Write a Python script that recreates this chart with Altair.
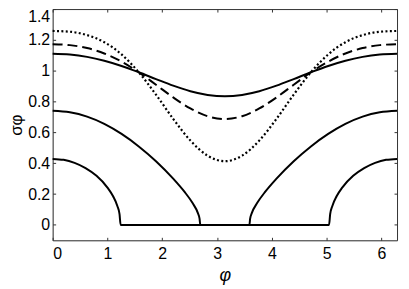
import altair as alt
import pandas as pd

# phi grid for the three upper curves (0 .. 2*pi)
PHI_UP = [0, 0.314, 0.628, 0.942, 1.257, 1.571, 1.885, 2.199, 2.513, 2.827, 3.142,
          3.456, 3.770, 4.084, 4.398, 4.712, 5.027, 5.341, 5.655, 5.969, 6.283]
SOLID_TOP = [1.110, 1.105, 1.090, 1.065, 1.031, 0.990, 0.946, 0.903, 0.867, 0.843, 0.834,
             0.843, 0.867, 0.903, 0.946, 0.990, 1.031, 1.065, 1.090, 1.105, 1.110]
DASHED = [1.172, 1.166, 1.147, 1.112, 1.059, 0.990, 0.909, 0.827, 0.755, 0.705, 0.687,
          0.705, 0.755, 0.827, 0.909, 0.990, 1.059, 1.112, 1.147, 1.166, 1.172]
DOTTED = [1.258, 1.253, 1.231, 1.185, 1.106, 0.990, 0.845, 0.688, 0.547, 0.449, 0.413,
          0.449, 0.547, 0.688, 0.845, 0.990, 1.106, 1.185, 1.231, 1.253, 1.258]

PHI_MID = [0, 0.314, 0.628, 0.942, 1.257, 1.571, 1.885, 2.199, 2.40, 2.55, 2.65, 2.68, 2.694,
           3.589, 3.603, 3.633, 3.733, 3.883, 4.084, 4.398, 4.712, 5.027, 5.341, 5.655, 5.969, 6.283]
SOLID_MID = [0.740, 0.730, 0.702, 0.655, 0.590, 0.509, 0.413, 0.300, 0.217, 0.143, 0.076, 0.040, 0.0,
             0.0, 0.040, 0.076, 0.143, 0.217, 0.300, 0.413, 0.509, 0.590, 0.655, 0.702, 0.730, 0.740]

PHI_LOW = [0, 0.2, 0.4, 0.6, 0.8, 1.0, 1.1, 1.18, 1.22, 1.24,
           5.043, 5.063, 5.103, 5.183, 5.283, 5.483, 5.683, 5.883, 6.083, 6.283]
SOLID_LOW = [0.428, 0.422, 0.402, 0.368, 0.318, 0.242, 0.187, 0.123, 0.070, 0.0,
             0.0, 0.070, 0.123, 0.187, 0.242, 0.318, 0.368, 0.402, 0.422, 0.428]

X_TICKS = [0, 1, 2, 3, 4, 5, 6]
Y_TICKS = [0, 0.2, 0.4, 0.6, 0.8, 1.0, 1.2, 1.4]

rows = []
def add(name, style, xs, ys):
    for i, (x, y) in enumerate(zip(xs, ys)):
        rows.append({"series": name, "style": style, "phi": x, "value": y, "order": i})

add("top", "solid", PHI_UP, SOLID_TOP)
add("dashed", "dashed", PHI_UP, DASHED)
add("dotted", "dotted", PHI_UP, DOTTED)
add("mid", "solid", PHI_MID, SOLID_MID)
add("low", "solid", PHI_LOW, SOLID_LOW)
df = pd.DataFrame(rows)

FONT = "Liberation Sans"
AX = "#333333"
W, H = 347, 233
xscale = alt.Scale(domain=[0, 6.283], nice=False, zero=False)
yscale = alt.Scale(domain=[-0.1, 1.4], nice=False, zero=False)

common = dict(grid=False, domainColor=AX, domainWidth=1, tickColor=AX, tickWidth=1,
              tickSize={"expr": "-3"}, labelFont=FONT, labelFontSize=16, labelColor="black",
              titleFont=FONT, titleFontSize=18, titleColor="black", titleFontWeight="normal")

x_bottom = alt.Axis(values=X_TICKS, format="~g", orient="bottom", title="φ",
                    titleFontStyle="italic", labelPadding=8,
                    titleX=W / 2, titleY=36, titleBaseline="middle", **common)
y_left = alt.Axis(values=Y_TICKS, format="~g", orient="left", title="σφ",
                  labelFlush=True, labelPadding=6,
                  titleX=-36, titleY=H / 2, titleBaseline="middle", titleAngle=270,
                  **{**common, "titleFontSize": 17})
x_top = alt.Axis(values=X_TICKS, orient="top", labels=False, title=None, **common)
y_right = alt.Axis(values=Y_TICKS, orient="right", labels=False, title=None, **common)

base = alt.Chart(df)

def line(style, dash, width):
    m = base.transform_filter(alt.datum.style == style).mark_line(
        color="black", strokeWidth=width, interpolate="monotone",
        **({"strokeDash": dash} if dash else {}))
    return m

solid = line("solid", None, 2).encode(
    x=alt.X("phi:Q", scale=xscale, axis=x_bottom),
    y=alt.Y("value:Q", scale=yscale, axis=y_left),
    detail="series:N", order="order:Q")
dashed = line("dashed", [10, 5], 2).encode(
    x=alt.X("phi:Q", scale=xscale, axis=None),
    y=alt.Y("value:Q", scale=yscale, axis=None),
    detail="series:N", order="order:Q")
dotted = line("dotted", [2, 2.4], 2.2).encode(
    x=alt.X("phi:Q", scale=xscale, axis=None),
    y=alt.Y("value:Q", scale=yscale, axis=None),
    detail="series:N", order="order:Q")
mirror = base.mark_line(opacity=0).encode(
    x=alt.X("phi:Q", scale=xscale, axis=x_top),
    y=alt.Y("value:Q", scale=yscale, axis=y_right),
    detail="series:N", order="order:Q")

chart = alt.layer(solid, dashed, dotted, mirror).resolve_axis(
    x="independent", y="independent"
).properties(
    width=W, height=H,
    autosize=alt.AutoSizeParams(type="none"),
    padding={"left": 45, "top": 0, "right": 4, "bottom": 48},
).configure_view(stroke=None).configure(background="white")

chart.save("out.html", embed_options={"renderer": "svg", "actions": False})
